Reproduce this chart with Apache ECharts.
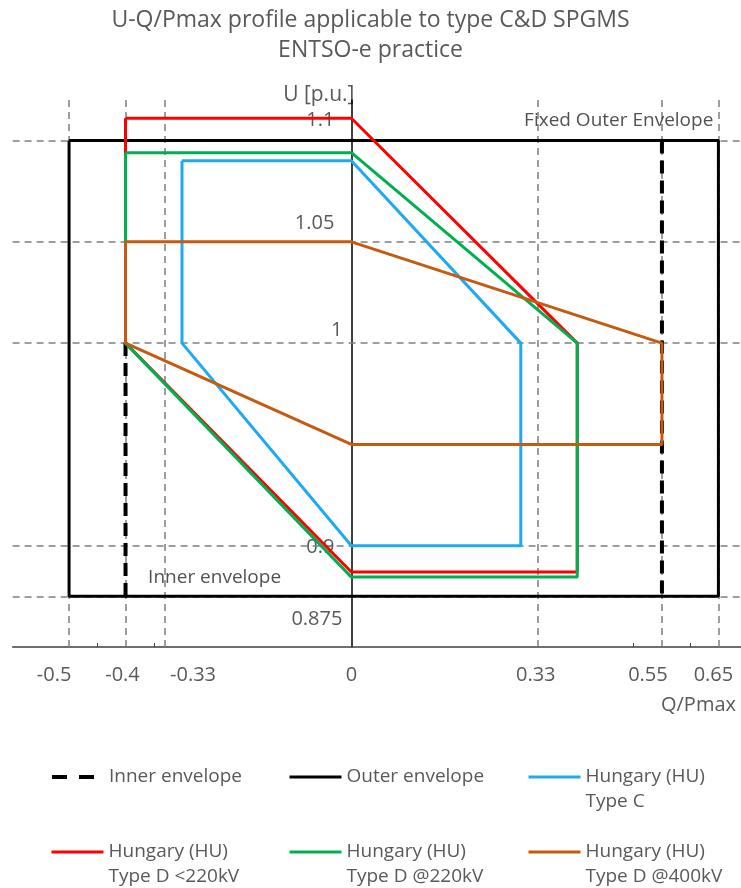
<!DOCTYPE html>
<html>
<head>
<meta charset="utf-8">
<script src="https://cdn.jsdelivr.net/npm/echarts@6/dist/echarts.min.js"></script>
<style>
  html, body { margin: 0; padding: 0; background: #fff; }
  #chart { width: 741px; height: 888px; }
</style>
</head>
<body>
<div id="chart"></div>
<script>
const titleText = "U-Q/Pmax profile applicable to type C&D SPGMS\nENTSO-e practice";

// axis ticks (Q/Pmax and U in p.u.)
const xTicks = [-0.5, -0.4, -0.33, 0, 0.33, 0.55, 0.65];
const yTicks = [1.1, 1.05, 1, 0.9, 0.875];
const xMinorTicks = [-0.45, -0.35, 0.5, 0.6];

// envelopes
const outerQ = [-0.5, 0.65, 0.65, -0.5, -0.5];
const outerU = [1.1, 1.1, 0.875, 0.875, 1.1];
const innerLeftQ = [-0.4, -0.4];
const innerLeftU = [1.0, 0.875];
const innerRightQ = [0.55, 0.55];
const innerRightU = [1.1, 0.875];

// Hungarian profiles
const typeCQ = [-0.3, 0, 0.3, 0.3, 0, -0.3, -0.3];
const typeCU = [1.09, 1.09, 1.0, 0.9, 0.9, 1.0, 1.09];
const typeDLowQ = [-0.4, 0, 0.4, 0.4, 0, -0.4, -0.4];
const typeDLowU = [1.111, 1.111, 1.0, 0.887, 0.887, 1.0, 1.111];
const typeD220Q = [-0.4, 0, 0.4, 0.4, 0, -0.4, -0.4];
const typeD220U = [1.094, 1.094, 1.0, 0.8845, 0.8845, 1.0, 1.094];
const typeD400Q = [-0.4, 0, 0.55, 0.55, 0, -0.4, -0.4];
const typeD400U = [1.05, 1.05, 1.0, 0.95, 0.95, 1.0, 1.05];

// text notes inside the plot
const noteText = ["Fixed Outer Envelope", "Inner envelope"];
const noteQ = [0.641, -0.36];
const noteU = [1.110, 0.8845];
const noteSide = ["left", "right"];

const FONT = "'Open Sans', 'Noto Sans', sans-serif";
const TEXT_GREY = "#595959";
const X_MIN = -0.6;
const X_MAX = 0.69;
const GRID_LEFT = 12.6;
const GRID_WIDTH = 728.4;

// label nudges in px, [dx, dy] (the source picture does not centre its labels)
const xLabelShift = [[-15, 0], [-3, 0], [28, 0], [0, 0], [-2, 0], [-14, 0], [-5, 0]];
const yLabelShift = [[-8, -20], [-8, -19], [0, -13], [-8, 2], [0, 23]];

function pairs(qs, us) {
  return qs.map((q, i) => [q, us[i]]);
}

function tickIndex(list, value) {
  return list.findIndex((v) => Math.abs(v - value) < 1e-9);
}

// centred labels move by half their padding, right-aligned ones by all of it
function richFor(prefix, shifts, centred) {
  const k = centred ? 2 : 1;
  const rich = {};
  shifts.forEach(([dx, dy], i) => {
    const top = dy > 0 ? 2 * dy : 0;
    const bottom = dy < 0 ? -2 * dy : 0;
    const left = dx > 0 ? k * dx : 0;
    const right = dx < 0 ? -k * dx : 0;
    rich[prefix + i] = { fontSize: 20, fontFamily: FONT, color: TEXT_GREY, padding: [top, right, bottom, left] };
  });
  return rich;
}

const chart = echarts.init(document.getElementById("chart"));

const legendSlots = [
  { name: "Inner envelope", left: 50, top: 764.5, dashed: true },
  { name: "Outer envelope", left: 288, top: 764.5 },
  { name: "Hungary (HU)\nType C", left: 527, top: 739.5 },
  { name: "Hungary (HU)\nType D <220kV", left: 50, top: 814.5 },
  { name: "Hungary (HU)\nType D @220kV", left: 288, top: 814.5 },
  { name: "Hungary (HU)\nType D @400kV", left: 527, top: 814.5 },
];

const legends = legendSlots.map((slot) => ({
  data: [slot.name],
  left: slot.left,
  top: slot.top,
  padding: 0,
  itemWidth: 52,
  itemHeight: 14,
  selectedMode: false,
  itemStyle: { opacity: 0 },
  lineStyle: slot.dashed ? { type: [15, 12], width: 4 } : { width: 3 },
  // an empty first line keeps the icon level with "Hungary (HU)"
  formatter: (name) => (name.includes("\n") ? " \n" + name : name),
  textStyle: { fontFamily: FONT, fontSize: 19, color: TEXT_GREY, lineHeight: 25 },
}));

function profile(name, qs, us, color) {
  return {
    name,
    type: "line",
    data: pairs(qs, us),
    showSymbol: false,
    symbol: "none",
    z: 3,
    lineStyle: { color, width: 3 },
    itemStyle: { color },
  };
}

const innerStyle = { color: "#000", width: 4, type: [13, 7] };

chart.setOption({
  animation: false,
  title: {
    text: titleText,
    left: "center",
    top: 0,
    textStyle: { fontFamily: FONT, fontSize: 23, fontWeight: "normal", color: TEXT_GREY, lineHeight: 30 },
  },
  legend: legends,
  grid: { left: GRID_LEFT, width: GRID_WIDTH, top: 100, height: 547, containLabel: false, outerBoundsMode: "none" },
  xAxis: {
    type: "value",
    min: X_MIN,
    max: X_MAX,
    name: "Q/Pmax",
    nameLocation: "end",
    nameGap: -5,
    nameTextStyle: { fontFamily: FONT, fontSize: 20, color: TEXT_GREY, align: "right", verticalAlign: "top", padding: [48, 0, 0, 0] },
    axisLine: { onZero: false, lineStyle: { color: "#404040", width: 1.5 } },
    axisTick: { show: true, inside: true, length: 4, customValues: xMinorTicks, lineStyle: { color: "#404040" } },
    splitLine: { show: false },
    axisLabel: {
      customValues: xTicks,
      margin: 18,
      formatter: (value) => `{x${tickIndex(xTicks, value)}|${value}}`,
      rich: richFor("x", xLabelShift, true),
    },
  },
  yAxis: {
    type: "value",
    min: 0.85,
    max: 1.12,
    // sit the U axis on Q = 0
    offset: -(0 - X_MIN) / (X_MAX - X_MIN) * GRID_WIDTH,
    name: "U [p.u.]",
    nameLocation: "end",
    nameGap: 5,
    nameTextStyle: { fontFamily: FONT, fontSize: 21, color: TEXT_GREY, align: "right", verticalAlign: "middle", padding: [0, -3, 0, 0] },
    axisLine: { show: true, onZero: false, lineStyle: { color: "#000", width: 1.5 } },
    axisTick: { show: false },
    splitLine: { show: false },
    axisLabel: {
      customValues: yTicks,
      margin: 9,
      formatter: (value) => `{y${tickIndex(yTicks, value)}|${value}}`,
      rich: richFor("y", yLabelShift, false),
    },
  },
  series: [
    {
      name: "Outer envelope",
      type: "line",
      data: pairs(outerQ, outerU),
      showSymbol: false,
      symbol: "none",
      z: 2,
      lineStyle: { color: "#000", width: 3 },
      itemStyle: { color: "#000" },
      markLine: {
        silent: true,
        symbol: "none",
        precision: 4,
        z: 1,
        label: { show: false },
        lineStyle: { color: "#7f7f7f", width: 1.5, type: [7, 5] },
        data: [
          ...xTicks.filter((v) => v !== 0).map((v) => ({ xAxis: v })),
          ...yTicks.map((v) => ({ yAxis: v })),
        ],
      },
    },
    {
      name: "Inner envelope",
      type: "line",
      data: pairs(innerLeftQ, innerLeftU),
      showSymbol: false,
      symbol: "none",
      z: 2,
      lineStyle: innerStyle,
      itemStyle: { color: "#000" },
    },
    {
      name: "Inner envelope",
      type: "line",
      data: pairs(innerRightQ, innerRightU),
      showSymbol: false,
      symbol: "none",
      z: 2,
      lineStyle: innerStyle,
      itemStyle: { color: "#000" },
    },
    profile("Hungary (HU)\nType D <220kV", typeDLowQ, typeDLowU, "#ff0000"),
    profile("Hungary (HU)\nType D @220kV", typeD220Q, typeD220U, "#00b050"),
    profile("Hungary (HU)\nType C", typeCQ, typeCU, "#1eaaf1"),
    profile("Hungary (HU)\nType D @400kV", typeD400Q, typeD400U, "#c55a11"),
    {
      name: "notes",
      type: "scatter",
      silent: true,
      symbolSize: 0,
      z: 4,
      data: noteText.map((t, i) => ({
        name: t,
        value: [noteQ[i], noteU[i]],
        label: { position: noteSide[i] },
      })),
      label: {
        show: true,
        formatter: "{b}",
        fontFamily: FONT,
        fontSize: 19,
        color: "#262626",
        distance: 0,
      },
    },
  ],
});
</script>
</body>
</html>
